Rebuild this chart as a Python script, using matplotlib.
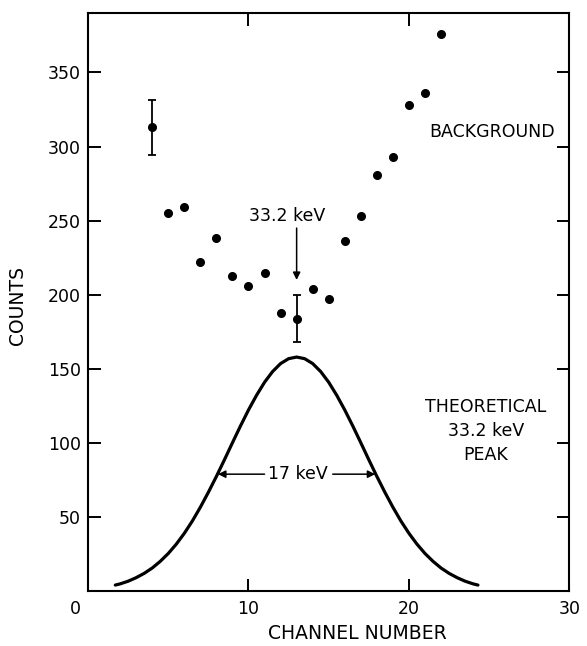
import numpy as np
import matplotlib.pyplot as plt

# background counts per channel
channels = [4, 5, 6, 7, 8, 9, 10, 11, 12, 13, 14, 15, 16, 17, 18, 19, 20, 21, 22]
counts = [313, 255, 259, 222, 238, 213, 206, 215, 188, 184, 204, 197, 236, 253, 281, 293, 328, 336, 376]

# only two points carry error bars
errChannels = [4, 13]
errCounts = [313, 184]
errSize = [18.5, 16]

# theoretical 33.2 keV peak, sampled from the drawn curve
peakX = [1.7, 2.0, 2.5, 3.0, 3.5, 4.0, 4.5, 5.0, 5.5, 6.0, 6.5, 7.0, 7.5, 8.0, 8.5, 9.0, 9.5,
         10.0, 10.5, 11.0, 11.5, 12.0, 12.5, 13.0, 13.5, 14.0, 14.5, 15.0, 15.5, 16.0, 16.5,
         17.0, 17.5, 18.0, 18.5, 19.0, 19.5, 20.0, 20.5, 21.0, 21.5, 22.0, 22.5, 23.0, 23.5,
         24.0, 24.3]
peakY = [4.2, 5.0, 6.8, 9.2, 12.1, 15.7, 20.2, 25.5, 31.8, 39.1, 47.4, 56.7, 66.8, 77.5, 88.7,
         100.2, 111.5, 122.3, 132.2, 141.0, 148.2, 153.6, 156.9, 158.0, 156.9, 153.6, 148.2,
         141.0, 132.2, 122.3, 111.5, 100.2, 88.7, 77.5, 66.8, 56.7, 47.4, 39.1, 31.8, 25.5,
         20.2, 15.7, 12.1, 9.2, 6.8, 5.0, 4.2]

xTicks = [10, 20, 30]
yTicks = [50, 100, 150, 200, 250, 300, 350]


def plot():
    plt.rcParams['font.family'] = 'DejaVu Sans'
    fig = plt.figure(figsize=(5.87, 6.46), dpi=100)
    ax = fig.add_axes([0.150, 0.0847, 0.820, 0.895])

    ax.plot(channels, counts, 'o', color='black', markersize=5.5)
    ax.errorbar(errChannels, errCounts, yerr=errSize, fmt='none', ecolor='black',
                elinewidth=1.3, capsize=3, capthick=1.3)
    ax.plot(peakX, peakY, color='black', lw=2.3, solid_capstyle='round', solid_joinstyle='round')

    ax.set_xlim(0, 30)
    ax.set_ylim(0, 390)
    ax.set_xticks(xTicks)
    ax.set_xticklabels([str(t) for t in xTicks])
    ax.set_yticks(yTicks)
    ax.set_yticklabels([str(t) for t in yTicks])
    ax.tick_params(direction='in', top=True, right=True, length=9, width=1.4, labelsize=12.5)
    ax.tick_params(axis='x', pad=6)
    ax.tick_params(axis='y', pad=5)
    for s in ax.spines.values():
        s.set_linewidth(1.5)

    # origin label sits left of the corner
    ax.annotate('0', xy=(0, 0), xytext=(-9, -6), textcoords='offset points',
                ha='center', va='top', fontsize=12.5)

    ax.set_xlabel('CHANNEL NUMBER', fontsize=13.5)
    ax.xaxis.set_label_coords(0.559, -0.056)
    ax.set_ylabel('COUNTS', fontsize=13.5)
    ax.yaxis.set_label_coords(-0.127, 0.495)

    ax.text(25.15, 310, 'BACKGROUND', ha='center', va='center', fontsize=12.5)
    ax.text(24.8, 108, 'THEORETICAL\n33.2 keV\nPEAK', ha='center', va='center',
            fontsize=12.5, linespacing=1.45)

    arrow = dict(arrowstyle='-|>', color='black', lw=1.1, mutation_scale=11, shrinkA=0, shrinkB=0)
    ax.text(12.4, 253, '33.2 keV', ha='center', va='center', fontsize=12.5)
    ax.annotate('', xy=(13, 210), xytext=(13, 245), arrowprops=arrow)

    ax.text(13.1, 79, '17 keV', ha='center', va='center', fontsize=12.5)
    ax.annotate('', xy=(8.1, 79), xytext=(11.0, 79), arrowprops=arrow)
    ax.annotate('', xy=(17.9, 79), xytext=(15.25, 79), arrowprops=arrow)

    plt.savefig('out.png', dpi=100)


if __name__ == '__main__':
    plot()
